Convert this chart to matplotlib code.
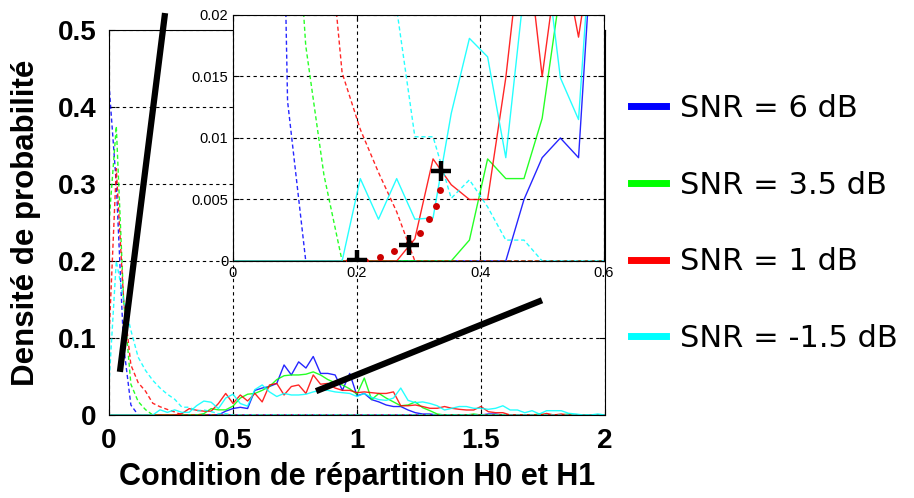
import numpy as np
import matplotlib
matplotlib.use('Agg')
import matplotlib.pyplot as plt

# Condition de repartition (69 points de 0 a 2)
x = np.linspace(0, 2, 69)

labels = ['SNR = 6 dB', 'SNR = 3.5 dB', 'SNR = 1 dB', 'SNR = -1.5 dB']
colors = ['#0000ff', '#00ff00', '#ff0000', '#00ffff']

# Densites sous H0 (traits pointilles)
h0_6 = [0.43, 0.30, 0.09, 0.013, 0, 0, 0, 0, 0, 0,
        0, 0, 0, 0, 0, 0, 0, 0, 0, 0,
        0, 0, 0, 0, 0, 0, 0, 0, 0, 0,
        0, 0, 0, 0, 0, 0, 0, 0, 0, 0,
        0, 0, 0, 0, 0, 0, 0, 0, 0, 0,
        0, 0, 0, 0, 0, 0, 0, 0, 0, 0,
        0, 0, 0, 0, 0, 0, 0, 0, 0]
h0_35 = [0.25, 0.375, 0.15, 0.04, 0.0175, 0.007, 0, 0, 0, 0,
         0, 0, 0, 0, 0, 0, 0, 0, 0, 0,
         0, 0, 0, 0, 0, 0, 0, 0, 0, 0,
         0, 0, 0, 0, 0, 0, 0, 0, 0, 0,
         0, 0, 0, 0, 0, 0, 0, 0, 0, 0,
         0, 0, 0, 0, 0, 0, 0, 0, 0, 0,
         0, 0, 0, 0, 0, 0, 0, 0, 0]
h0_1 = [0.10, 0.32, 0.15, 0.065, 0.042, 0.031, 0.0153, 0.0107, 0.0072, 0.004,
        0, 0, 0, 0, 0, 0, 0, 0, 0, 0,
        0, 0, 0, 0, 0, 0, 0, 0, 0, 0,
        0, 0, 0, 0, 0, 0, 0, 0, 0, 0,
        0, 0, 0, 0, 0, 0, 0, 0, 0, 0,
        0, 0, 0, 0, 0, 0, 0, 0, 0, 0,
        0, 0, 0, 0, 0, 0, 0, 0, 0]
h0_m15 = [0.04, 0.20, 0.15, 0.11, 0.075, 0.058, 0.045, 0.035, 0.027, 0.0205,
          0.0101, 0.0101, 0.0051, 0.0066, 0.0044, 0.0017, 0.0017, 0, 0, 0,
          0, 0, 0, 0, 0, 0, 0, 0, 0, 0,
          0, 0, 0, 0, 0, 0, 0, 0, 0, 0,
          0, 0, 0, 0, 0, 0, 0, 0, 0, 0,
          0, 0, 0, 0, 0, 0, 0, 0, 0, 0,
          0, 0, 0, 0, 0, 0, 0, 0, 0]

# Densites sous H1 (traits pleins)
h1_6 = [0, 0, 0, 0, 0, 0, 0, 0, 0, 0,
        0, 0, 0, 0, 0, 0, 0.005, 0.0084, 0.010, 0.0084,
        0.032, 0.035, 0.037, 0.041, 0.065, 0.052, 0.069, 0.061, 0.076, 0.054,
        0.054, 0.052, 0.032, 0.054, 0.025, 0.028, 0.020, 0.017, 0.013, 0.011,
        0.011, 0.0065, 0.003, 0.0013, 0.0013, 0, 0, 0, 0, 0,
        0, 0, 0.0013, 0.0013, 0, 0, 0, 0, 0, 0,
        0, 0, 0, 0, 0, 0, 0, 0, 0]
h1_35 = [0, 0, 0, 0, 0, 0, 0, 0, 0, 0,
         0, 0, 0, 0.0017, 0.0083, 0.0067, 0.0067, 0.0116, 0.022, 0.027,
         0.028, 0.032, 0.037, 0.046, 0.051, 0.052, 0.052, 0.053, 0.056, 0.052,
         0.046, 0.042, 0.039, 0.034, 0.027, 0.048, 0.020, 0.028, 0.022, 0.017,
         0.012, 0.013, 0.017, 0.0095, 0.0056, 0.0013, 0, 0, 0, 0,
         0.0013, 0, 0, 0, 0, 0, 0, 0, 0, 0.0013,
         0, 0, 0, 0.0013, 0, 0, 0, 0, 0]
h1_1 = [0, 0, 0, 0, 0, 0, 0, 0, 0, 0,
        0.0018, 0.0083, 0.0062, 0.005, 0.005, 0.0149, 0.028, 0.015, 0.026, 0.0182,
        0.028, 0.017, 0.039, 0.041, 0.026, 0.037, 0.039, 0.028, 0.052, 0.040,
        0.041, 0.035, 0.032, 0.032, 0.029, 0.030, 0.029, 0.028, 0.028, 0.030,
        0.012, 0.012, 0.013, 0.011, 0.0087, 0.0087, 0.011, 0.0087, 0.0074, 0.0065,
        0.0065, 0.011, 0.0043, 0.003, 0.003, 0, 0, 0, 0, 0,
        0.002, 0, 0.0013, 0, 0, 0, 0, 0, 0]
h1_m15 = [0, 0, 0, 0, 0, 0, 0, 0.0067, 0.0034, 0.0067,
          0.0034, 0.0035, 0.012, 0.0181, 0.0166, 0.0084, 0.022, 0.027, 0.0149, 0.0115,
          0.033, 0.039, 0.030, 0.024, 0.028, 0.026, 0.026, 0.027, 0.030, 0.032,
          0.032, 0.030, 0.029, 0.028, 0.024, 0.028, 0.023, 0.020, 0.019, 0.022,
          0.035, 0.019, 0.016, 0.017, 0.015, 0.012, 0.0065, 0.0087, 0.011, 0.011,
          0.0087, 0.0087, 0.0074, 0.0087, 0.012, 0.0065, 0.0065, 0.003, 0.0056, 0.0013,
          0.0056, 0.0056, 0.0056, 0.0022, 0.0013, 0, 0, 0.0013, 0]

h0_all = [h0_6, h0_35, h0_1, h0_m15]
h1_all = [h1_6, h1_35, h1_1, h1_m15]

# Ajustement (points rouges) et points marques (+) du zoom
fit_x = [0.187, 0.214, 0.238, 0.261, 0.284, 0.302, 0.317, 0.328, 0.335]
fit_y = [0.0, 0.0, 0.0003, 0.00078, 0.0015, 0.0023, 0.0034, 0.0045, 0.0058]
cross_x = [0.2, 0.284, 0.3366]
cross_y = [0.0001, 0.0013, 0.0073]

# Traits noirs d'annotation (coordonnees du graphe principal)
arrow1_x = [0.044, 0.226]
arrow1_y = [0.056, 0.522]
arrow2_x = [0.835, 1.746]
arrow2_y = [0.031, 0.149]

W, H = 914, 498
fig = plt.figure(figsize=(W / 100, H / 100), dpi=100)
plt.rcParams['font.family'] = ['Liberation Sans', 'DejaVu Sans']

ax = fig.add_axes([109 / W, 1 - 415 / H, 496 / W, 385 / H])
dash = (0, (3, 2))
h1_lines = []
for h0, h1, c in zip(h0_all, h1_all, colors):
    ax.plot(x, h0, color=c, lw=1.0, ls=dash, alpha=0.85)
    ln, = ax.plot(x, h1, color=c, lw=1.0, alpha=0.85)
    h1_lines.append(ln)

ax.set_xlim(0, 2)
ax.set_ylim(0, 0.5)
ax.set_xticks([0, 0.5, 1, 1.5, 2])
ax.set_xticklabels(['0', '0.5', '1', '1.5', '2'])
ax.set_yticks([0, 0.1, 0.2, 0.3, 0.4, 0.5])
ax.set_yticklabels(['0', '0.1', '0.2', '0.3', '0.4', '0.5'])
ax.tick_params(direction='in', length=4, top=True, right=True, labelsize=20, pad=9)
for t in ax.get_xticklabels() + ax.get_yticklabels():
    t.set_fontweight('bold')
ax.grid(True, color='black', ls=(0, (3, 3)), lw=0.8)
ax.set_xlabel('Condition de répartition H0 et H1', fontsize=22, fontweight='bold', labelpad=6)
ax.set_ylabel('Densité de probabilité', fontsize=22.5, fontweight='bold', labelpad=12)

ax.plot(arrow1_x, arrow1_y, color='black', lw=4.5, clip_on=False, zorder=10, solid_capstyle='butt')
ax.plot(arrow2_x, arrow2_y, color='black', lw=4.5, clip_on=False, zorder=10, solid_capstyle='butt')

# Zoom sur la zone 0 - 0.6
axin = fig.add_axes([233 / W, 1 - 261 / H, 371 / W, 246 / H])
for h0, h1, c in zip(h0_all, h1_all, colors):
    axin.plot(x, h0, color=c, lw=1.0, ls=dash, alpha=0.85)
    axin.plot(x, h1, color=c, lw=1.0, alpha=0.85)
axin.plot(fit_x, fit_y, 'o', color='#cc0000', ms=5, mec='none', zorder=5)
axin.plot(cross_x, cross_y, '+', color='black', ms=14, mew=3.2, zorder=6)
axin.set_xlim(0, 0.6)
axin.set_ylim(0, 0.02)
axin.set_xticks([0, 0.2, 0.4, 0.6])
axin.set_xticklabels(['0', '0.2', '0.4', '0.6'])
axin.set_yticks([0, 0.005, 0.01, 0.015, 0.02])
axin.set_yticklabels(['0', '0.005', '0.01', '0.015', '0.02'])
axin.tick_params(direction='in', length=4, top=True, right=True, labelsize=10.5)
axin.grid(True, color='black', ls=(0, (3, 3)), lw=0.8)

leg = ax.legend(h1_lines, labels, loc='upper left', bbox_to_anchor=(631 / W, 1 - 94 / H),
                bbox_transform=fig.transFigure, frameon=False, prop={'family': 'DejaVu Sans', 'size': 22},
                handlelength=1.14, handletextpad=0.46, labelspacing=1.56, borderpad=0, borderaxespad=0)
for l in leg.get_lines():
    l.set_linewidth(5)
    l.set_alpha(1)

fig.savefig('out.png', dpi=100)
